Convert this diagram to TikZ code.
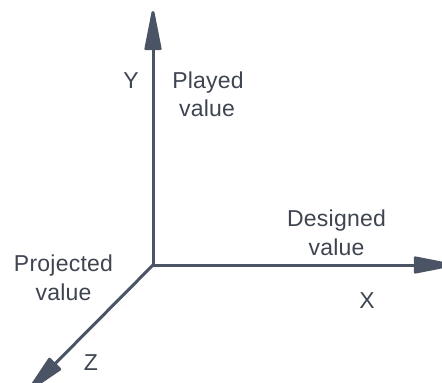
\documentclass[tikz,border=0pt]{standalone}
\usepackage{fontspec}
\setmainfont{Liberation Sans}[LetterSpace=1]
\usetikzlibrary{arrows.meta}
\definecolor{axiscol}{RGB}{74,84,100}
\definecolor{textcol}{RGB}{62,68,80}
\tikzset{
  axis/.style={draw=axiscol, line width=3pt, -{Triangle[length=46pt,width=17pt,round]}},
  lbl/.style={text=textcol, font=\fontsize{23}{28}\selectfont, anchor=base, inner sep=0pt}
}
\begin{document}
\begin{tikzpicture}[x=1pt,y=-1pt]
\useasboundingbox (0,0) rectangle (442,383);
\coordinate (O) at (153,265);
\coordinate (Ytip) at (153,11);
\coordinate (Xtip) at (453,265);
\coordinate (Ztip) at (28,391);
\draw[axis] (O) -- (Ytip);
\draw[axis] (O) -- (Xtip);
\draw[axis] (O) -- (Ztip);
\node[lbl] (ylab) at (131,88.3) {Y};
\node[lbl] (played) at (208,88.3) {Played};
\node[lbl] (playedv) at (207,116.5) {value};
\node[lbl] (designed) at (336.5,226.7) {Designed};
\node[lbl] (designedv) at (336.5,255) {value};
\node[lbl] (projected) at (63.5,271.7) {Projected};
\node[lbl] (projectedv) at (63.5,300) {value};
\node[lbl] (xlab) at (367,308) {X};
\node[lbl] (zlab) at (91,370) {Z};
\end{tikzpicture}
\end{document}
